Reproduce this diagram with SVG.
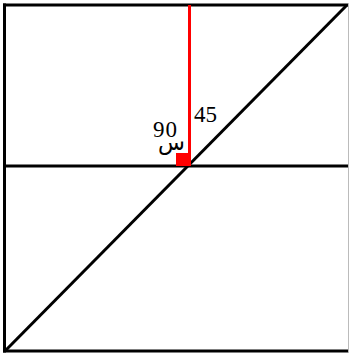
<svg xmlns="http://www.w3.org/2000/svg" width="350" height="356" viewBox="0 0 350 356">
<style>
.ln{stroke:#000;stroke-width:3;fill:none}
.lbl{font-family:"Liberation Serif","DejaVu Serif",serif;font-size:23px;fill:#000}
</style>
<rect width="350" height="356" fill="#fff"/>
<g id="frame">
<line class="ln" x1="4.5" y1="3.5" x2="4.5" y2="352.5"/>
<line class="ln" x1="3" y1="5" x2="348" y2="5"/>
<line class="ln" x1="3" y1="351" x2="348" y2="351"/>
<line x1="348.5" y1="3" x2="348.5" y2="353" stroke="#bbb" stroke-width="1"/>
</g>
<g id="connectors">
<line class="ln" x1="3" y1="166" x2="348" y2="166"/>
<line class="ln" x1="5" y1="351" x2="347" y2="5"/>
<line x1="189.5" y1="5" x2="189.5" y2="166" stroke="#f00" stroke-width="3"/>
</g>
<g id="right-angle">
<rect x="176" y="153" width="13" height="13" fill="#f00"/>
</g>
<g id="labels">
<text class="lbl" x="194" y="122">45</text>
<text class="lbl" x="153" y="137" letter-spacing="1">90</text>
<text x="158" y="150" font-family="'DejaVu Sans','Noto Sans',sans-serif" font-size="22" fill="#000">س</text>
</g>
</svg>
